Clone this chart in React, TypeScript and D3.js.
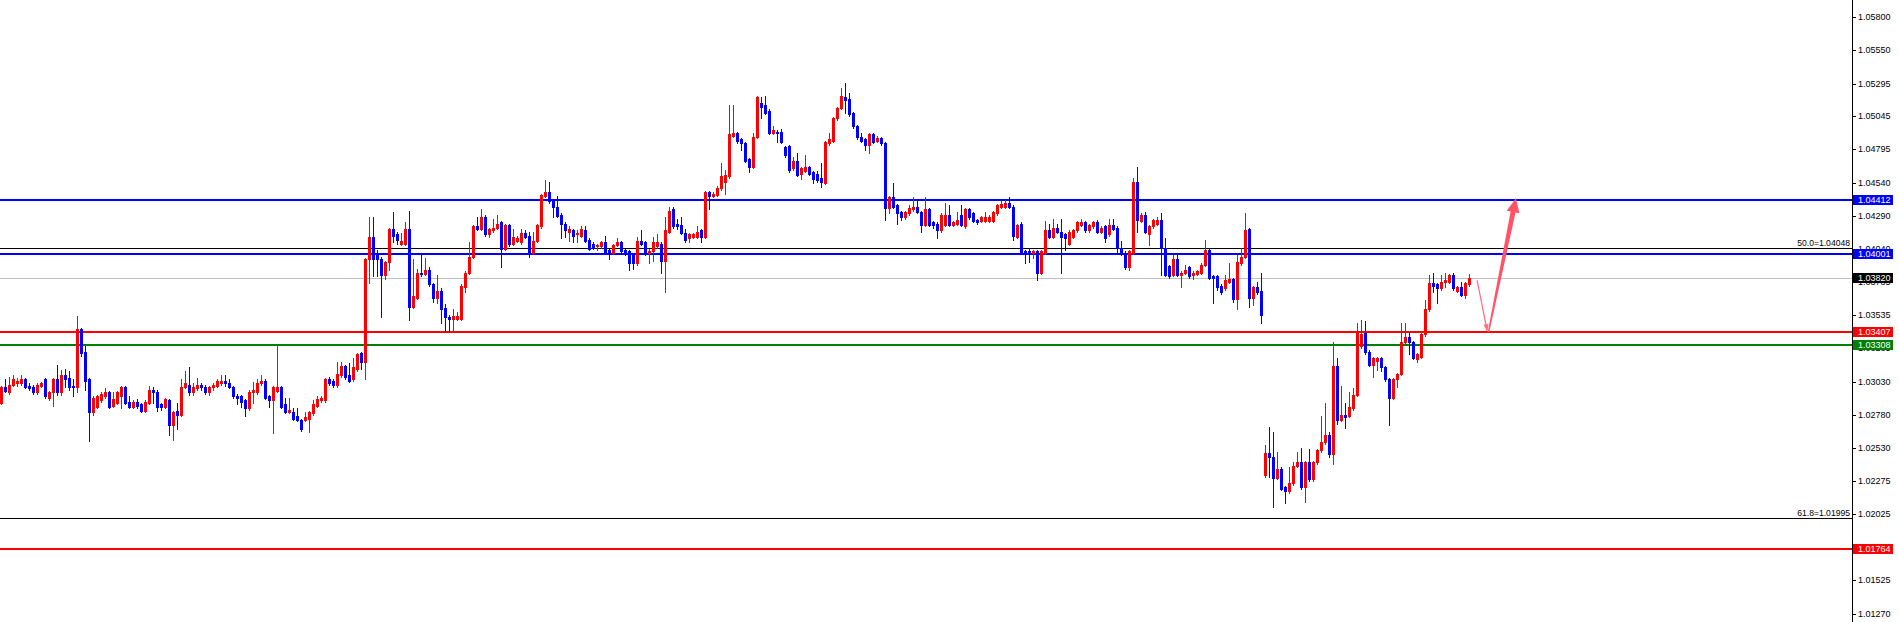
import React from 'react';
import * as d3 from 'd3';

// ---- Data (EURUSD-like candles) ----
const opens = [
1.0287,1.0299,1.0295,1.0301,1.0302,1.0302,1.0305,1.0300,1.0299,1.0295,
1.0300,1.0305,1.0291,1.0295,1.0305,1.0295,1.0308,1.0306,1.0300,1.0299,
1.0343,1.0326,1.0305,1.0280,1.0284,1.0289,1.0292,1.0295,1.0285,1.0287,
1.0292,1.0299,1.0288,1.0284,1.0288,1.0286,1.0281,1.0287,1.0297,1.0295,
1.0286,1.0284,1.0289,1.0270,1.0281,1.0278,1.0299,1.0301,1.0295,1.0298,
1.0301,1.0299,1.0295,1.0299,1.0300,1.0302,1.0304,1.0302,1.0299,1.0292,
1.0292,1.0289,1.0283,1.0295,1.0295,1.0302,1.0304,1.0292,1.0289,1.0296,
1.0299,1.0286,1.0280,1.0280,1.0277,1.0274,1.0274,1.0275,1.0279,1.0285,
1.0289,1.0289,1.0305,1.0304,1.0301,1.0308,1.0315,1.0308,1.0305,1.0313,
1.0325,1.0318,1.0396,1.0413,1.0401,1.0396,1.0384,1.0394,1.0419,1.0415,
1.0408,1.0408,1.0419,1.0360,1.0367,1.0386,1.0385,1.0388,1.0377,1.0367,
1.0372,1.0359,1.0352,1.0351,1.0351,1.0351,1.0375,1.0386,1.0398,1.0421,
1.0419,1.0428,1.0415,1.0418,1.0420,1.0424,1.0404,1.0422,1.0408,1.0410,
1.0409,1.0416,1.0414,1.0401,1.0410,1.0421,1.0444,1.0447,1.0440,1.0436,
1.0430,1.0423,1.0417,1.0418,1.0415,1.0414,1.0418,1.0411,1.0408,1.0406,
1.0406,1.0409,1.0403,1.0401,1.0407,1.0409,1.0403,1.0402,1.0400,1.0393,
1.0410,1.0409,1.0401,1.0402,1.0406,1.0408,1.0395,1.0417,1.0434,1.0423,
1.0422,1.0416,1.0412,1.0413,1.0413,1.0418,1.0413,1.0447,1.0444,1.0445,
1.0450,1.0455,1.0459,1.0490,1.0492,1.0487,1.0484,1.0472,1.0466,1.0489,
1.0515,1.0513,1.0509,1.0492,1.0493,1.0493,1.0481,1.0482,1.0465,1.0471,
1.0461,1.0463,1.0466,1.0462,1.0461,1.0458,1.0454,1.0484,1.0486,1.0503,
1.0511,1.0519,1.0518,1.0507,1.0497,1.0489,1.0487,1.0483,1.0491,1.0486,
1.0488,1.0484,1.0435,1.0443,1.0437,1.0432,1.0428,1.0431,1.0434,1.0436,
1.0432,1.0422,1.0434,1.0424,1.0423,1.0418,1.0422,1.0430,1.0422,1.0423,
1.0430,1.0421,1.0434,1.0431,1.0426,1.0425,1.0425,1.0425,1.0425,1.0431,
1.0436,1.0436,1.0439,1.0436,1.0413,1.0423,1.0402,1.0402,1.0401,1.0402,
1.0386,1.0401,1.0418,1.0413,1.0420,1.0417,1.0415,1.0408,1.0413,1.0418,
1.0422,1.0424,1.0418,1.0421,1.0424,1.0417,1.0421,1.0415,1.0422,1.0420,
1.0405,1.0401,1.0390,1.0401,1.0455,1.0425,1.0430,1.0415,1.0421,1.0423,
1.0426,1.0405,1.0391,1.0384,1.0396,1.0384,1.0386,1.0390,1.0384,1.0385,
1.0386,1.0392,1.0403,1.0383,1.0383,1.0376,1.0374,1.0379,1.0381,1.0366,
1.0393,1.0398,1.0419,1.0367,1.0375,1.0372,1.0232,1.0249,1.0246,1.0230,
1.0237,1.0223,1.0220,1.0226,1.0239,1.0242,1.0223,1.0242,1.0229,1.0242,
1.0251,1.0257,1.0263,1.0248,1.0315,1.0274,1.0278,1.0277,1.0283,1.0293,
1.0330,1.0340,1.0326,1.0316,1.0319,1.0321,1.0314,1.0305,1.0291,1.0305,
1.0309,1.0333,1.0337,1.0333,1.0320,1.0322,1.0339,1.0358,1.0378,1.0377,
1.0374,1.0379,1.0379,1.0384,1.0372,1.0375,1.0369,1.0377,
];

const highs = [
1.0300,1.0305,1.0307,1.0308,1.0306,1.0308,1.0306,1.0302,1.0301,1.0302,
1.0303,1.0306,1.0296,1.0306,1.0316,1.0312,1.0313,1.0311,1.0305,1.0353,
1.0344,1.0330,1.0306,1.0292,1.0293,1.0295,1.0298,1.0296,1.0295,1.0296,
1.0300,1.0300,1.0292,1.0289,1.0290,1.0287,1.0289,1.0300,1.0299,1.0297,
1.0287,1.0291,1.0290,1.0281,1.0287,1.0305,1.0311,1.0314,1.0302,1.0306,
1.0302,1.0301,1.0300,1.0302,1.0305,1.0308,1.0308,1.0305,1.0300,1.0294,
1.0293,1.0290,1.0297,1.0303,1.0305,1.0308,1.0305,1.0293,1.0300,1.0330,
1.0300,1.0291,1.0291,1.0283,1.0283,1.0275,1.0280,1.0281,1.0289,1.0292,
1.0292,1.0306,1.0307,1.0305,1.0318,1.0318,1.0316,1.0317,1.0321,1.0325,
1.0326,1.0397,1.0428,1.0428,1.0403,1.0398,1.0395,1.0420,1.0432,1.0417,
1.0416,1.0424,1.0433,1.0396,1.0389,1.0399,1.0397,1.0390,1.0378,1.0384,
1.0374,1.0362,1.0354,1.0358,1.0356,1.0377,1.0387,1.0409,1.0422,1.0428,
1.0434,1.0430,1.0420,1.0427,1.0430,1.0425,1.0423,1.0423,1.0419,1.0414,
1.0419,1.0418,1.0417,1.0417,1.0423,1.0446,1.0456,1.0455,1.0441,1.0444,
1.0431,1.0424,1.0421,1.0419,1.0418,1.0421,1.0421,1.0412,1.0409,1.0408,
1.0410,1.0414,1.0404,1.0408,1.0412,1.0410,1.0404,1.0403,1.0401,1.0413,
1.0418,1.0410,1.0404,1.0413,1.0415,1.0409,1.0428,1.0436,1.0436,1.0427,
1.0428,1.0419,1.0416,1.0416,1.0421,1.0419,1.0448,1.0448,1.0447,1.0452,
1.0469,1.0464,1.0513,1.0513,1.0493,1.0488,1.0485,1.0473,1.0492,1.0520,
1.0519,1.0520,1.0510,1.0497,1.0494,1.0495,1.0482,1.0483,1.0474,1.0477,
1.0466,1.0475,1.0467,1.0463,1.0463,1.0469,1.0486,1.0492,1.0504,1.0512,
1.0526,1.0530,1.0522,1.0508,1.0498,1.0492,1.0488,1.0492,1.0492,1.0490,
1.0489,1.0485,1.0444,1.0454,1.0438,1.0433,1.0433,1.0437,1.0443,1.0440,
1.0433,1.0443,1.0435,1.0425,1.0424,1.0431,1.0439,1.0437,1.0425,1.0432,
1.0437,1.0435,1.0435,1.0432,1.0427,1.0429,1.0432,1.0430,1.0433,1.0438,
1.0440,1.0441,1.0443,1.0437,1.0423,1.0424,1.0403,1.0405,1.0403,1.0403,
1.0403,1.0425,1.0423,1.0427,1.0423,1.0427,1.0416,1.0418,1.0419,1.0425,
1.0427,1.0425,1.0423,1.0425,1.0426,1.0421,1.0422,1.0427,1.0427,1.0421,
1.0410,1.0402,1.0403,1.0458,1.0466,1.0431,1.0432,1.0422,1.0427,1.0428,
1.0431,1.0412,1.0392,1.0399,1.0400,1.0387,1.0392,1.0391,1.0387,1.0388,
1.0393,1.0411,1.0405,1.0384,1.0384,1.0377,1.0384,1.0393,1.0382,1.0399,
1.0405,1.0431,1.0420,1.0376,1.0379,1.0386,1.0255,1.0269,1.0265,1.0250,
1.0238,1.0224,1.0238,1.0242,1.0250,1.0253,1.0243,1.0252,1.0243,1.0252,
1.0277,1.0287,1.0265,1.0333,1.0321,1.0300,1.0287,1.0295,1.0298,1.0348,
1.0350,1.0349,1.0327,1.0322,1.0322,1.0322,1.0315,1.0306,1.0306,1.0310,
1.0348,1.0348,1.0341,1.0334,1.0325,1.0340,1.0365,1.0384,1.0386,1.0378,
1.0384,1.0386,1.0385,1.0386,1.0376,1.0379,1.0379,1.0385,
];

const lows = [
1.0286,1.0295,1.0294,1.0300,1.0300,1.0301,1.0298,1.0297,1.0294,1.0294,
1.0299,1.0291,1.0289,1.0285,1.0293,1.0293,1.0299,1.0297,1.0292,1.0295,
1.0323,1.0297,1.0258,1.0278,1.0283,1.0288,1.0291,1.0283,1.0284,1.0286,
1.0283,1.0286,1.0283,1.0283,1.0283,1.0280,1.0280,1.0286,1.0287,1.0281,
1.0282,1.0283,1.0263,1.0259,1.0267,1.0277,1.0298,1.0293,1.0293,1.0297,
1.0297,1.0294,1.0293,1.0297,1.0299,1.0301,1.0300,1.0298,1.0291,1.0286,
1.0284,1.0277,1.0282,1.0287,1.0294,1.0301,1.0290,1.0284,1.0264,1.0295,
1.0283,1.0279,1.0279,1.0274,1.0273,1.0266,1.0273,1.0265,1.0278,1.0284,
1.0288,1.0288,1.0301,1.0299,1.0299,1.0307,1.0305,1.0303,1.0304,1.0311,
1.0313,1.0305,1.0378,1.0383,1.0383,1.0352,1.0381,1.0388,1.0409,1.0408,
1.0407,1.0407,1.0350,1.0359,1.0366,1.0383,1.0384,1.0376,1.0364,1.0363,
1.0348,1.0341,1.0341,1.0341,1.0350,1.0350,1.0371,1.0385,1.0397,1.0418,
1.0418,1.0414,1.0413,1.0417,1.0419,1.0390,1.0403,1.0406,1.0407,1.0409,
1.0408,1.0412,1.0398,1.0400,1.0409,1.0420,1.0443,1.0439,1.0428,1.0428,
1.0412,1.0413,1.0410,1.0409,1.0409,1.0413,1.0409,1.0403,1.0404,1.0403,
1.0405,1.0400,1.0396,1.0400,1.0406,1.0401,1.0399,1.0388,1.0389,1.0392,
1.0407,1.0399,1.0393,1.0395,1.0405,1.0386,1.0371,1.0416,1.0420,1.0419,
1.0415,1.0409,1.0409,1.0412,1.0412,1.0409,1.0412,1.0434,1.0443,1.0444,
1.0449,1.0446,1.0458,1.0489,1.0484,1.0479,1.0470,1.0462,1.0465,1.0488,
1.0503,1.0506,1.0491,1.0491,1.0485,1.0484,1.0474,1.0462,1.0464,1.0459,
1.0457,1.0462,1.0460,1.0454,1.0455,1.0451,1.0453,1.0483,1.0485,1.0502,
1.0510,1.0507,1.0505,1.0496,1.0487,1.0485,1.0479,1.0477,1.0484,1.0485,
1.0483,1.0426,1.0431,1.0435,1.0423,1.0426,1.0427,1.0430,1.0433,1.0431,
1.0417,1.0421,1.0421,1.0420,1.0412,1.0417,1.0421,1.0421,1.0421,1.0422,
1.0421,1.0420,1.0427,1.0424,1.0423,1.0424,1.0424,1.0424,1.0424,1.0430,
1.0435,1.0435,1.0435,1.0411,1.0412,1.0400,1.0393,1.0394,1.0397,1.0380,
1.0385,1.0400,1.0412,1.0412,1.0416,1.0386,1.0403,1.0407,1.0412,1.0417,
1.0421,1.0417,1.0417,1.0420,1.0416,1.0416,1.0409,1.0414,1.0418,1.0401,
1.0399,1.0389,1.0388,1.0400,1.0417,1.0424,1.0416,1.0407,1.0420,1.0422,
1.0384,1.0383,1.0382,1.0383,1.0383,1.0375,1.0385,1.0382,1.0381,1.0384,
1.0385,1.0391,1.0381,1.0363,1.0373,1.0370,1.0373,1.0378,1.0364,1.0358,
1.0392,1.0397,1.0360,1.0361,1.0370,1.0348,1.0231,1.0231,1.0208,1.0229,
1.0221,1.0211,1.0219,1.0225,1.0238,1.0222,1.0212,1.0228,1.0228,1.0241,
1.0250,1.0256,1.0246,1.0241,1.0271,1.0273,1.0268,1.0276,1.0282,1.0292,
1.0329,1.0324,1.0315,1.0307,1.0312,1.0311,1.0304,1.0270,1.0290,1.0299,
1.0308,1.0332,1.0324,1.0320,1.0318,1.0321,1.0338,1.0357,1.0371,1.0363,
1.0373,1.0375,1.0378,1.0373,1.0371,1.0368,1.0367,1.0376,
];

const closes = [
1.0299,1.0296,1.0301,1.0305,1.0304,1.0305,1.0299,1.0298,1.0295,1.0301,
1.0302,1.0292,1.0295,1.0305,1.0295,1.0308,1.0305,1.0299,1.0299,1.0343,
1.0325,1.0304,1.0280,1.0291,1.0292,1.0294,1.0295,1.0284,1.0290,1.0295,
1.0299,1.0287,1.0284,1.0288,1.0285,1.0281,1.0288,1.0297,1.0295,1.0284,
1.0284,1.0290,1.0270,1.0280,1.0278,1.0299,1.0302,1.0295,1.0299,1.0301,
1.0299,1.0295,1.0299,1.0301,1.0304,1.0304,1.0302,1.0299,1.0292,1.0291,
1.0288,1.0283,1.0295,1.0297,1.0302,1.0304,1.0291,1.0289,1.0299,1.0299,
1.0284,1.0280,1.0282,1.0275,1.0274,1.0267,1.0276,1.0280,1.0286,1.0290,
1.0291,1.0305,1.0302,1.0301,1.0309,1.0315,1.0307,1.0304,1.0314,1.0324,
1.0318,1.0396,1.0413,1.0396,1.0396,1.0384,1.0394,1.0419,1.0414,1.0411,
1.0410,1.0419,1.0360,1.0368,1.0386,1.0385,1.0388,1.0377,1.0367,1.0372,
1.0358,1.0352,1.0351,1.0353,1.0353,1.0376,1.0386,1.0398,1.0421,1.0419,
1.0428,1.0415,1.0419,1.0420,1.0423,1.0404,1.0422,1.0408,1.0413,1.0412,
1.0416,1.0413,1.0401,1.0410,1.0422,1.0445,1.0447,1.0440,1.0436,1.0429,
1.0423,1.0418,1.0419,1.0414,1.0416,1.0419,1.0410,1.0404,1.0405,1.0407,
1.0409,1.0401,1.0401,1.0407,1.0409,1.0402,1.0401,1.0393,1.0393,1.0410,
1.0408,1.0400,1.0402,1.0409,1.0409,1.0395,1.0418,1.0433,1.0421,1.0421,
1.0416,1.0411,1.0415,1.0415,1.0417,1.0413,1.0447,1.0444,1.0446,1.0450,
1.0459,1.0460,1.0491,1.0492,1.0486,1.0484,1.0471,1.0466,1.0489,1.0519,
1.0512,1.0507,1.0492,1.0494,1.0492,1.0485,1.0475,1.0464,1.0471,1.0460,
1.0465,1.0466,1.0461,1.0457,1.0456,1.0455,1.0485,1.0487,1.0503,1.0511,
1.0520,1.0517,1.0506,1.0497,1.0489,1.0486,1.0483,1.0491,1.0485,1.0488,
1.0484,1.0435,1.0443,1.0436,1.0431,1.0428,1.0432,1.0435,1.0436,1.0432,
1.0422,1.0434,1.0422,1.0422,1.0418,1.0430,1.0430,1.0422,1.0424,1.0426,
1.0422,1.0434,1.0428,1.0425,1.0424,1.0428,1.0428,1.0428,1.0432,1.0437,
1.0438,1.0439,1.0436,1.0414,1.0422,1.0401,1.0401,1.0401,1.0402,1.0386,
1.0402,1.0418,1.0413,1.0420,1.0417,1.0413,1.0412,1.0417,1.0418,1.0424,
1.0424,1.0418,1.0422,1.0424,1.0417,1.0420,1.0412,1.0422,1.0419,1.0405,
1.0400,1.0390,1.0402,1.0455,1.0426,1.0430,1.0417,1.0421,1.0426,1.0426,
1.0405,1.0384,1.0383,1.0396,1.0384,1.0386,1.0388,1.0383,1.0386,1.0387,
1.0392,1.0403,1.0382,1.0382,1.0375,1.0371,1.0380,1.0381,1.0366,1.0394,
1.0398,1.0418,1.0367,1.0375,1.0371,1.0354,1.0249,1.0246,1.0230,1.0237,
1.0222,1.0220,1.0226,1.0239,1.0242,1.0223,1.0242,1.0229,1.0242,1.0251,
1.0257,1.0263,1.0248,1.0315,1.0274,1.0278,1.0276,1.0284,1.0293,1.0340,
1.0339,1.0326,1.0316,1.0321,1.0321,1.0314,1.0305,1.0291,1.0305,1.0309,
1.0333,1.0337,1.0333,1.0321,1.0324,1.0339,1.0358,1.0378,1.0376,1.0374,
1.0379,1.0380,1.0384,1.0374,1.0375,1.0369,1.0378,1.0382,
];

// price axis tick labels
const tickLabels = [
  '1.05800','1.05550','1.05295','1.05045','1.04795','1.04540','1.04290','1.04040',
  '1.03785','1.03535','1.03285','1.03030','1.02780','1.02530','1.02275','1.02025',
  '1.01775','1.01525','1.01270',
];

// horizontal support / resistance levels
const resistanceLevels = [1.04412, 1.04001];
const supportLevels = [1.03407, 1.01764];
const secondarySupport = [1.03308];
const currentPrice = 1.03820;

// fibonacci levels
const fibRatios = ['50.0', '61.8'];
const fibPrices = [1.04048, 1.01995];

// projected path (bar index, price)
const projBars = [368.9, 371.5, 378.6];
const projPrices = [1.0380, 1.03407, 1.04424];

// ---- Styles ----
const W = 1899;
const H = 622;
const AXIS_X = 1852;
const UP = '#ff0000';
const DOWN = '#0000ff';
const LVL_BLUE = '#0000ff';
const LVL_RED = '#ff0000';
const LVL_GREEN = '#008000';
const ARROW = '#ff5468';
const FONT = '"Liberation Sans", Arial, sans-serif';
const FS = 9;

function arrowPolygon(x0: number, y0: number, x1: number, y1: number, w0: number, w1: number, headLen: number, headW: number) {
  const dx = x1 - x0, dy = y1 - y0;
  const len = Math.hypot(dx, dy);
  const ux = dx / len, uy = dy / len;
  const px = -uy, py = ux;
  const bx = x1 - ux * headLen, by = y1 - uy * headLen;
  const pts: [number, number][] = [
    [x0 + px * w0 / 2, y0 + py * w0 / 2],
    [bx + px * w1 / 2, by + py * w1 / 2],
    [bx + px * headW / 2, by + py * headW / 2],
    [x1, y1],
    [bx - px * headW / 2, by - py * headW / 2],
    [bx - px * w1 / 2, by - py * w1 / 2],
    [x0 - px * w0 / 2, y0 - py * w0 / 2],
  ];
  return pts.map((p) => p.join(',')).join(' ');
}

export default function App() {
  const n = opens.length;
  const x = d3.scaleLinear().domain([0, n - 1]).range([1.5, 1.5 + 4 * (n - 1)]);
  const y = d3.scaleLinear().domain([1.01207, 1.05929]).range([H, 0]);
  const ry = (p: number) => Math.round(y(p));

  const boxes: { price: number; fill: string }[] = [
    ...resistanceLevels.map((p) => ({ price: p, fill: LVL_BLUE })),
    ...supportLevels.map((p) => ({ price: p, fill: LVL_RED })),
    ...secondarySupport.map((p) => ({ price: p, fill: LVL_GREEN })),
    { price: currentPrice, fill: '#000000' },
  ];

  const ax = [x(projBars[0]), x(projBars[1]), x(projBars[2])];
  const ay = [y(projPrices[0]), y(projPrices[1]), y(projPrices[2])];

  return (
    <svg
      width={W}
      height={H}
      viewBox={`0 0 ${W} ${H}`}
      style={{ position: 'absolute', left: 0, top: 0, background: '#ffffff', display: 'block' }}
    >
      <rect x={0} y={0} width={W} height={H} fill="#ffffff" />

      {/* current price line */}
      <line x1={0} x2={AXIS_X} y1={ry(currentPrice) + 0.5} y2={ry(currentPrice) + 0.5} stroke="#c0c0c0" strokeWidth={1} />

      {/* fibonacci lines */}
      {fibPrices.map((p, i) => (
        <g key={'fib' + i}>
          <line x1={0} x2={AXIS_X} y1={ry(p) + 0.5} y2={ry(p) + 0.5} stroke="#000000" strokeWidth={1} />
          <text x={AXIS_X - 2} y={ry(p) - 2} textAnchor="end" fontFamily={FONT} fontSize={8.6} fill="#000">
            {`${fibRatios[i]}=${p.toFixed(5)}`}
          </text>
        </g>
      ))}

      {/* levels */}
      {resistanceLevels.map((p, i) => (
        <line key={'r' + i} x1={0} x2={AXIS_X} y1={ry(p)} y2={ry(p)} stroke={LVL_BLUE} strokeWidth={2} shapeRendering="crispEdges" />
      ))}
      {supportLevels.map((p, i) => (
        <line key={'s' + i} x1={0} x2={AXIS_X} y1={ry(p)} y2={ry(p)} stroke={LVL_RED} strokeWidth={2} shapeRendering="crispEdges" />
      ))}
      {secondarySupport.map((p, i) => (
        <line key={'g' + i} x1={0} x2={AXIS_X} y1={ry(p)} y2={ry(p)} stroke={LVL_GREEN} strokeWidth={2} shapeRendering="crispEdges" />
      ))}

      {/* candles */}
      <g shapeRendering="crispEdges">
        {opens.map((o, i) => {
          const c = closes[i];
          const col = c >= o ? UP : DOWN;
          const cx = x(i);
          const top = ry(Math.max(o, c));
          const bot = ry(Math.min(o, c));
          return (
            <g key={i}>
              <line x1={cx} x2={cx} y1={ry(highs[i])} y2={ry(lows[i]) + 1} stroke={col} strokeWidth={1} />
              <rect x={cx - 1.5} y={top} width={3} height={Math.max(1, bot - top + 1)} fill={col} />
            </g>
          );
        })}
      </g>

      {/* projection arrows */}
      <polygon points={arrowPolygon(ax[0], ay[0], ax[1], ay[1], 1.2, 1.2, 8, 5)} fill={ARROW} opacity={0.85} />
      <polygon points={arrowPolygon(ax[1] + 1, ay[1], ax[2], ay[2], 1.5, 5, 14, 13)} fill={ARROW} />

      {/* right price axis */}
      <line x1={AXIS_X + 0.5} x2={AXIS_X + 0.5} y1={0} y2={H} stroke="#000" strokeWidth={1} />
      {tickLabels.map((t) => {
        const ty = ry(+t);
        return (
          <g key={t}>
            <line x1={AXIS_X} x2={AXIS_X + 4} y1={ty + 0.5} y2={ty + 0.5} stroke="#000" strokeWidth={1} />
            <text x={AXIS_X + 6} y={ty} dy="0.35em" fontFamily={FONT} fontSize={FS} fill="#000">{t}</text>
          </g>
        );
      })}
      {boxes.map((b, i) => {
        const by = ry(b.price);
        return (
          <g key={'box' + i}>
            <rect x={AXIS_X + 1} y={by - 5} width={40} height={10} fill={b.fill} />
            <text x={AXIS_X + 6} y={by} dy="0.35em" fontFamily={FONT} fontSize={FS} fill="#fff">
              {b.price.toFixed(5)}
            </text>
          </g>
        );
      })}
    </svg>
  );
}
